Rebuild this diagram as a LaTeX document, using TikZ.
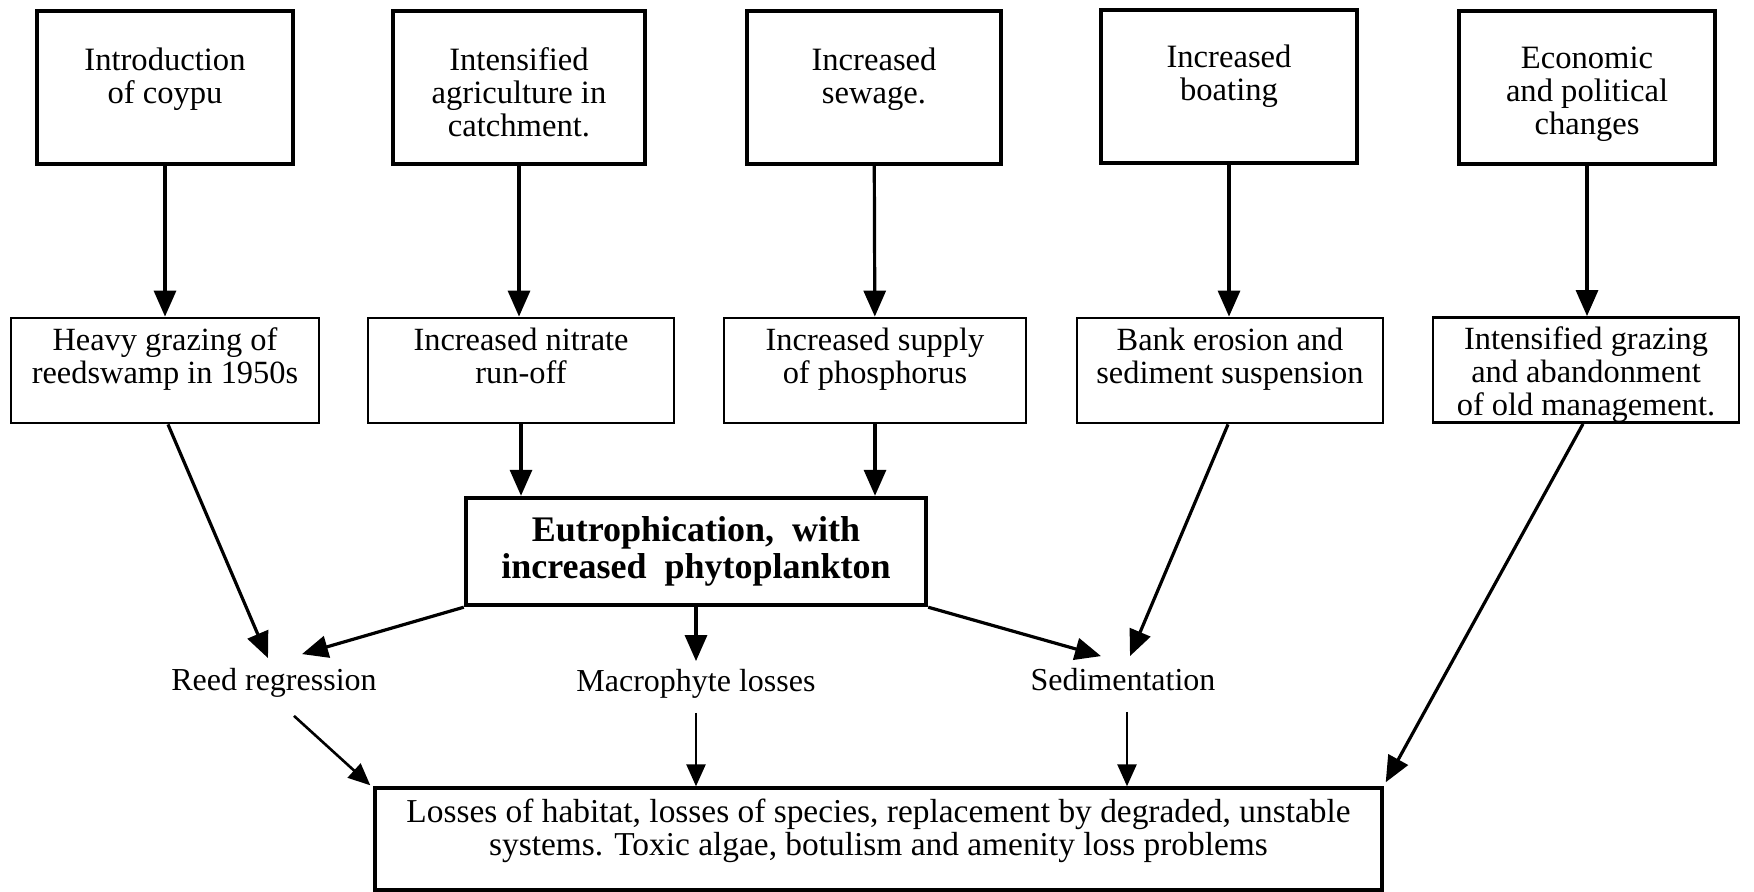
\documentclass[tikz,border=0pt]{standalone}
\usepackage{fontspec}
\setmainfont{Liberation Serif}
\usetikzlibrary{arrows.meta}
\newcommand{\bxt}[5]{\parbox[c][#2][t]{#1}{\fontsize{#4}{16.5}\selectfont\centering\rule{0pt}{#3}#5}}
\tikzset{
  topbox/.style={draw, line width=2.2pt, inner sep=0pt},
  midbox/.style={draw, line width=1.4pt, inner sep=0pt},
  eubox/.style={draw, line width=2.2pt, inner sep=0pt, minimum width=230pt, minimum height=53.5pt, align=center,
    font=\fontsize{18}{18.5}\selectfont\bfseries},
  endbox/.style={draw, line width=1.7pt, inner sep=0pt},
  lbl/.style={inner sep=4pt, text height=11pt, text depth=3.5pt, font=\fontsize{16}{17}\selectfont},
  arr/.style={-{Triangle[length=13pt,width=11pt]}, line width=1.6pt},
  arrthin/.style={-{Triangle[length=11pt,width=9.5pt]}, line width=1.3pt}
}
\begin{document}
\begin{tikzpicture}[x=0.5pt,y=-0.5pt]
\useasboundingbox[fill=white] (0,0) rectangle (1754,892);
% top row
\node[topbox] (t1) at (165,87.5)  {\bxt{128pt}{76.5pt}{30pt}{16.3}{Introduction\\of coypu}};
\node[topbox] (t2) at (519,87.5)  {\bxt{126pt}{76.5pt}{30pt}{16.3}{Intensified\\agriculture in\\catchment.}};
\node[topbox] (t3) at (874,87.5)  {\bxt{127pt}{76.5pt}{30pt}{16.3}{Increased\\sewage.}};
\node[topbox] (t4) at (1229,86.5) {\bxt{128pt}{76.5pt}{29pt}{16.3}{Increased\\boating}};
\node[topbox] (t5) at (1587,87.5) {\bxt{128pt}{76.5pt}{29pt}{16.3}{Economic\\and political\\changes}};
% second row
\node[midbox] (r1) at (165,370.5)  {\bxt{154pt}{52.5pt}{16.5pt}{16.2}{Heavy grazing of\\reedswamp in 1950s}};
\node[midbox] (r2) at (521,370.5)  {\bxt{153pt}{52.5pt}{16.5pt}{16.2}{Increased nitrate\\run-off}};
\node[midbox] (r3) at (875,370.5)  {\bxt{151pt}{52.5pt}{16.5pt}{16.2}{Increased supply\\of phosphorus}};
\node[midbox] (r4) at (1230,370.5) {\bxt{153pt}{52.5pt}{16.5pt}{16.2}{Bank erosion and\\sediment suspension}};
\node[midbox] (r5) at (1586,370)   {\bxt{153pt}{52.5pt}{16pt}{16.2}{Intensified grazing\\and abandonment\\of old management.}};
% eutrophication
\node[eubox] (eu) at (696,551.5) {Eutrophication,~~with\\increased~~phytoplankton};
% effects
\node[lbl] (reed) at (274,683) {Reed regression};
\node[lbl] (mac) at (696,684) {Macrophyte losses};
\node[lbl] (sed) at (1123,683) {Sedimentation};
% final
\node[endbox] (fin) at (878.5,839) {\bxt{503.5pt}{51pt}{17pt}{16.7}{Losses of habitat, losses of species, replacement by degraded, unstable\\systems. Toxic algae, botulism and amenity loss problems}};
% arrows
\draw[arr] (t1) -- (r1);
\draw[arr] (t2.south) -- (t2.south |- r2.north);
\draw[arr] (t3) -- (r3);
\draw[arr] (t4.south) -- (t4.south |- r4.north);
\draw[arr] (t5.south) -- (t5.south |- r5.north);
\draw[arr] (r2.south) -- (r2.south |- eu.north);
\draw[arr] (r3.south) -- (r3.south |- eu.north);
\draw[arr] ([xshift=1.5pt]r1.south) -- ([xshift=-3pt,yshift=1pt]reed.north);
\draw[arr] (eu.south west) -- ([xshift=14pt,yshift=3pt]reed.north);
\draw[arr] (eu.south) -- (eu.south |- mac.north);
\draw[arr] (eu.south east) -- ([xshift=-11pt,yshift=2pt]sed.north);
\draw[arr] ([xshift=-1pt]r4.south) -- ([xshift=3.5pt,yshift=2pt]sed.north);
\draw[arr] ([xshift=-1.5pt]r5.south) -- ([xshift=1pt,yshift=2pt]fin.north east);
\draw[arrthin] ([xshift=10pt,yshift=-5pt]reed.south) -- ([xshift=-1.5pt,yshift=0.5pt]fin.north west);
\draw[arrthin] ([yshift=-3pt]mac.south) -- (mac.south |- fin.north);
\draw[arrthin] ([xshift=2pt,yshift=-3pt]sed.south) -- ([xshift=2pt]sed.south |- fin.north);
\end{tikzpicture}
\end{document}
